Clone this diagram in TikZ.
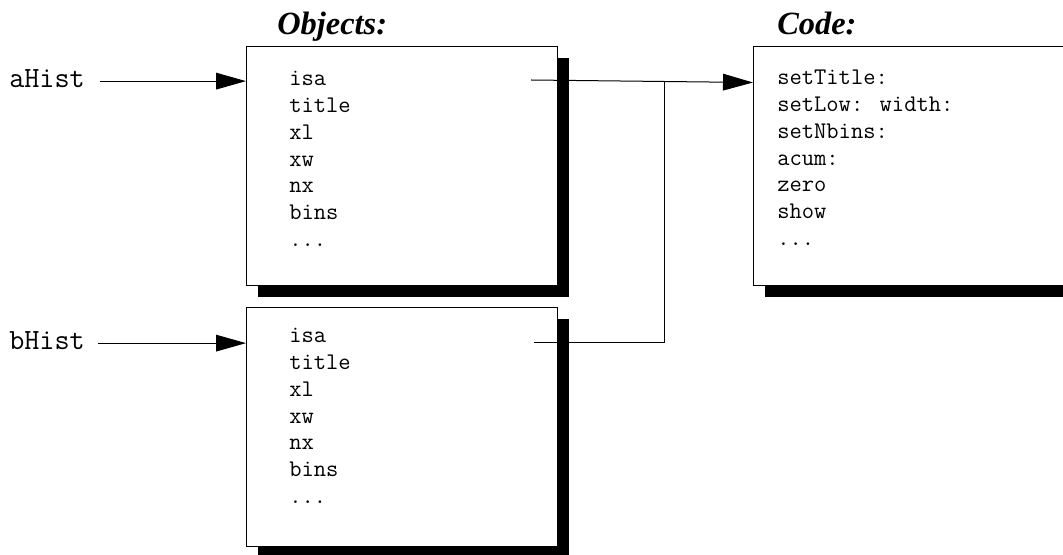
\documentclass[tikz,border=0pt]{standalone}
\usepackage{fontspec}
\newfontfamily\headfont{Liberation Serif}
\usetikzlibrary{arrows.meta,shadows}

\newcommand\moreslots{...}

\tikzset{
  panel/.style={draw=black, fill=white, line width=0.75pt, inner sep=0pt,
    anchor=north west, minimum height=179.25pt,
    drop shadow={shadow xshift=8.6pt, shadow yshift=-8.6pt, opacity=1, fill=black}},
  objpanel/.style={panel, minimum width=233.25pt},
  codepanel/.style={panel, minimum width=260pt},
  item/.style={font=\ttfamily\fontsize{17.9pt}{20pt}\selectfont, anchor=base west, inner sep=0pt},
  handle/.style={font=\ttfamily\fontsize{22pt}{24pt}\selectfont, anchor=base west, inner sep=0pt},
  heading/.style={font=\headfont\bfseries\itshape\fontsize{24.3pt}{26pt}\selectfont, anchor=base west, inner sep=0pt},
  link/.style={line width=0.75pt, -{Triangle[length=22.5pt,width=12.5pt]}},
  wire/.style={line width=0.75pt},
}

\begin{document}
\begin{tikzpicture}[x=0.75pt, y=-0.75pt]
  \useasboundingbox (0,0) rectangle (1063,555);
  \clip (0,0) rectangle (1063,555);

  % headings
  \node[heading] (objhead) at (277,35) {Objects:};
  \node[heading] (codehead) at (777,35) {Code:};

  % the two histogram objects and the shared code block
  \node[objpanel] (boxA) at (246,46) {};
  \node[objpanel] (boxB) at (246,307) {};
  \node[codepanel] (code) at (753,46) {};

  % instance variables of aHist
  \foreach \name/\txt [count=\i from 0] in {a1/isa,a2/title,a3/xl,a4/xw,a5/nx,a6/bins,a7/\moreslots}
    \node[item] (\name) at (289,86+26.7*\i) {\txt};

  % instance variables of bHist
  \foreach \name/\txt [count=\i from 0] in {b1/isa,b2/title,b3/xl,b4/xw,b5/nx,b6/bins,b7/\moreslots}
    \node[item] (\name) at (289,342.7+26.8*\i) {\txt};

  % methods
  \foreach \name/\txt [count=\i from 0] in {c1/setTitle:,c2/setLow: width:,c3/setNbins:,c4/acum:,c5/zero,c6/show,c7/\moreslots}
    \node[item] (\name) at (777,85+26.7*\i) {\txt};

  % variable names pointing at the objects
  \node[handle] (aHist) at (9,88) {aHist};
  \node[handle] (bHist) at (9,350) {bHist};
  \draw[link] ([xshift=11pt,yshift=-1.5pt]aHist.east) -- ([yshift=-1.5pt]aHist.east -| boxA.west);
  \draw[link] ([xshift=10pt,yshift=-1.5pt]bHist.east) -- ([yshift=-1.5pt]bHist.east -| boxB.west);

  % isa pointers into the code block
  \coordinate (aOut) at (531,80);
  \coordinate (bOut) at (534,343);
  \coordinate (codeIn) at (753,82.5);
  \coordinate (join) at (664.5,81.5);
  \draw[link] (aOut) -- (codeIn);
  \draw[wire] (bOut) -| (join);
\end{tikzpicture}
\end{document}
